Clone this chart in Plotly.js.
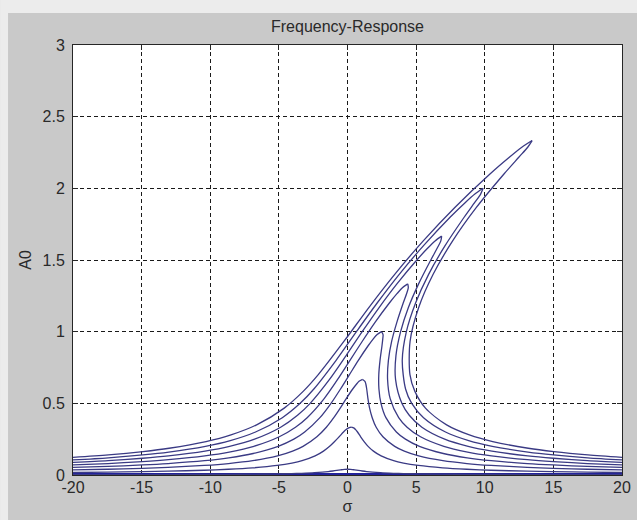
<!DOCTYPE html>
<html>
<head>
<meta charset="utf-8">
<script src="https://cdn.plot.ly/plotly-3.0.1.min.js"></script>
<style>
  html, body { margin: 0; padding: 0; background: #c9c9c9; }
  #chart { width: 637px; height: 520px; }
</style>
</head>
<body>
<div id="chart"></div>
<script>
// Frequency-response curves: detuning sigma vs. steady-state amplitude A0,
// one closed path per forcing level (left branch up to the peak, right branch back down).

const sigma0 = [-20, 20];
const amp0   = [0, 0];

const sigma1 = [-20.97,-17.47,-14.96,-13.08,-10.45,-8.69,-6.92,-5.14,-4.07,-3.34,-2.41,-1.82,-1.40,-1.07,-0.78,-0.50,-0.34,-0.21,0.00,
                0.22,0.35,0.51,0.79,1.07,1.40,1.82,2.41,3.34,4.07,5.14,6.92,8.69,10.45,13.08,14.96,17.47,20.97];
const amp1   = [0.002,0.0024,0.0028,0.0032,0.004,0.0048,0.006,0.008,0.01,0.012,0.016,0.02,0.024,0.028,0.032,0.036,0.038,0.0392,0.04,
                0.0392,0.038,0.036,0.032,0.028,0.024,0.02,0.016,0.012,0.01,0.008,0.006,0.0048,0.004,0.0032,0.0028,0.0024,0.002];

const sigma2 = [-20.97,-17.47,-14.96,-13.08,-10.44,-8.68,-6.91,-5.13,-4.05,-3.31,-2.36,-1.75,-1.30,-0.94,-0.61,-0.29,-0.10,0.05,0.27,
                0.48,0.59,0.73,0.96,1.21,1.50,1.89,2.45,3.36,4.08,5.16,6.93,8.69,10.45,13.08,14.97,17.47,20.97];
const amp2   = [0.0167,0.02,0.0233,0.0267,0.0333,0.04,0.05,0.0667,0.0833,0.1,0.1333,0.1667,0.2,0.2333,0.2667,0.3,0.3167,0.3267,0.3333,
                0.3267,0.3167,0.3,0.2667,0.2333,0.2,0.1667,0.1333,0.1,0.0833,0.0667,0.05,0.04,0.0333,0.0267,0.0233,0.02,0.0167];

const sigma3 = [-20.97,-17.47,-14.96,-13.08,-10.44,-8.67,-6.90,-5.10,-4.00,-3.24,-2.23,-1.54,-1.00,-0.53,-0.09,0.38,0.65,0.84,1.10,
                1.27,1.34,1.40,1.49,1.61,1.80,2.09,2.58,3.44,4.14,5.19,6.95,8.70,10.46,13.09,14.97,17.47,20.98];
const amp3   = [0.0333,0.04,0.0467,0.0533,0.0667,0.08,0.1,0.1333,0.1667,0.2,0.2667,0.3333,0.4,0.4667,0.5333,0.6,0.6333,0.6533,0.6667,
                0.6533,0.6333,0.6,0.5333,0.4667,0.4,0.3333,0.2667,0.2,0.1667,0.1333,0.1,0.08,0.0667,0.0533,0.0467,0.04,0.0333];

const sigma4 = [-20.97,-17.46,-14.95,-13.07,-10.42,-8.65,-6.87,-5.05,-3.91,-3.12,-2.01,-1.20,-0.51,0.14,0.79,1.49,1.88,2.16,2.47,
                2.59,2.57,2.51,2.37,2.28,2.29,2.44,2.80,3.56,4.22,5.24,6.98,8.72,10.47,13.10,14.98,17.48,20.98];
const amp4   = [0.05,0.06,0.07,0.08,0.1,0.12,0.15,0.2,0.25,0.3,0.4,0.5,0.6,0.7,0.8,0.9,0.95,0.98,1.0,
                0.98,0.95,0.9,0.8,0.7,0.6,0.5,0.4,0.3,0.25,0.2,0.15,0.12,0.1,0.08,0.07,0.06,0.05];

const sigma5 = [-20.96,-17.45,-14.94,-13.05,-10.40,-8.62,-6.82,-4.97,-3.79,-2.94,-1.70,-0.72,0.18,1.08,2.02,3.05,3.62,4.00,4.39,
                4.43,4.31,4.06,3.60,3.22,2.98,2.92,3.11,3.73,4.34,5.32,7.02,8.75,10.49,13.11,14.99,17.48,20.99];
const amp5   = [0.0667,0.08,0.0933,0.1067,0.1333,0.16,0.2,0.2667,0.3333,0.4,0.5333,0.6667,0.8,0.9333,1.0667,1.2,1.2667,1.3067,1.3333,
                1.3067,1.2667,1.2,1.0667,0.9333,0.8,0.6667,0.5333,0.4,0.3333,0.2667,0.2,0.16,0.1333,0.1067,0.0933,0.08,0.0667];

const sigma6 = [-20.96,-17.44,-14.93,-13.04,-10.38,-8.59,-6.77,-4.87,-3.64,-2.72,-1.31,-0.10,1.07,2.29,3.60,5.05,5.85,6.38,6.86,
                6.80,6.54,6.07,5.18,4.43,3.87,3.53,3.50,3.96,4.50,5.42,7.08,8.79,10.52,13.13,15.00,17.49,20.99];
const amp6   = [0.0833,0.1,0.1167,0.1333,0.1667,0.2,0.25,0.3333,0.4167,0.5,0.6667,0.8333,1.0,1.1667,1.3333,1.5,1.5833,1.6333,1.6667,
                1.6333,1.5833,1.5,1.3333,1.1667,1.0,0.8333,0.6667,0.5,0.4167,0.3333,0.25,0.2,0.1667,0.1333,0.1167,0.1,0.0833];

const sigma7 = [-20.95,-17.43,-14.92,-13.02,-10.35,-8.54,-6.70,-4.75,-3.45,-2.45,-0.83,0.65,2.16,3.77,5.54,7.49,8.57,9.28,9.88,
                9.70,9.26,8.51,7.11,5.91,4.96,4.29,3.99,4.23,4.68,5.54,7.14,8.83,10.55,13.15,15.01,17.50,21.00];
const amp7   = [0.1,0.12,0.14,0.16,0.2,0.24,0.3,0.4,0.5,0.6,0.8,1.0,1.2,1.4,1.6,1.8,1.9,1.96,2.0,
                1.96,1.9,1.8,1.6,1.4,1.2,1.0,0.8,0.6,0.5,0.4,0.3,0.24,0.2,0.16,0.14,0.12,0.1];

const sigma8 = [-20.94,-17.42,-14.90,-13.00,-10.31,-8.49,-6.62,-4.61,-3.23,-2.13,-0.25,1.54,3.44,5.52,7.82,10.38,11.79,12.70,13.45,
                13.13,12.48,11.40,9.39,7.66,6.24,5.18,4.56,4.55,4.91,5.68,7.22,8.88,10.58,13.17,15.03,17.52,21.01];
const amp8   = [0.1167,0.14,0.1633,0.1867,0.2333,0.28,0.35,0.4667,0.5833,0.7,0.9333,1.1667,1.4,1.6333,1.8667,2.1,2.2167,2.2867,2.3333,
                2.2867,2.2167,2.1,1.8667,1.6333,1.4,1.1667,0.9333,0.7,0.5833,0.4667,0.35,0.28,0.2333,0.1867,0.1633,0.14,0.1167];

const sigmaTicks    = [-20, -15, -10, -5, 0, 5, 10, 15, 20];
const sigmaTickText = ['-20', '-15', '-10', '-5', '0', '5', '10', '15', '20'];
const ampTicks      = [0, 0.5, 1, 1.5, 2, 2.5, 3];
const ampTickText   = ['0', '0.5', '1', '1.5', '2', '2.5', '3'];

const curves = [
  [sigma1, amp1], [sigma2, amp2], [sigma3, amp3], [sigma4, amp4],
  [sigma5, amp5], [sigma6, amp6], [sigma7, amp7], [sigma8, amp8]
];

const curveColor = '#3a3a84';
const traces = [{
  x: sigma0, y: amp0, type: 'scatter', mode: 'lines',
  line: { color: '#22229a', width: 4 }, hoverinfo: 'skip'
}];

// each path is split at its peak so the tip stays sharp while the branches are smoothed
curves.forEach(([s, a]) => {
  let k = 0;
  a.forEach((v, i) => { if (v > a[k]) k = i; });
  [[0, k + 1], [k, s.length]].forEach(([i0, i1]) => {
    traces.push({
      x: s.slice(i0, i1), y: a.slice(i0, i1),
      type: 'scatter', mode: 'lines',
      line: { color: curveColor, width: 1.3, shape: 'spline', smoothing: 0.8 },
      hoverinfo: 'skip'
    });
  });
});

const axisCommon = {
  tickmode: 'array',
  showgrid: true, gridcolor: '#1a1a1a', gridwidth: 1, griddash: '4px,3px',
  zeroline: false,
  showline: true, linecolor: '#262626', linewidth: 1, mirror: 'ticks',
  ticks: 'inside', ticklen: 5, tickcolor: '#262626',
  tickfont: { size: 16, color: '#2a2a2a' },
  layer: 'below traces',
  fixedrange: true
};

const layout = {
  width: 637, height: 520,
  paper_bgcolor: '#c9c9c9', plot_bgcolor: '#ffffff',
  margin: { l: 73, r: 14.5, t: 45, b: 45 },
  font: { family: '"Liberation Sans", Arial, sans-serif', size: 16, color: '#2a2a2a' },
  showlegend: false,
  title: {
    text: 'Frequency-Response',
    x: 0.5, xref: 'paper', xanchor: 'center',
    y: 1 - 26 / 520, yref: 'container', yanchor: 'middle',
    font: { size: 16, color: '#2a2a2a' }
  },
  xaxis: Object.assign({}, axisCommon, {
    range: [-20, 20], tickvals: sigmaTicks, ticktext: sigmaTickText,
    ticklabelstandoff: -2,
    title: { text: 'σ', standoff: 5, font: { size: 16 } }
  }),
  yaxis: Object.assign({}, axisCommon, {
    range: [0, 3], tickvals: ampTicks, ticktext: ampTickText,
    ticklabelstandoff: 4,
    title: { text: 'A0', standoff: 6, font: { size: 16 } }
  }),
  shapes: [
    { type: 'rect', xref: 'paper', yref: 'paper', layer: 'below',
      x0: -0.1329, x1: 1.03, y0: 1.0744, y1: 1.11, line: { width: 0 }, fillcolor: '#ececec' },
    { type: 'rect', xref: 'paper', yref: 'paper', layer: 'below',
      x0: -0.1329, x1: -0.1183, y0: -0.11, y1: 1.0744, line: { width: 0 }, fillcolor: '#ececec' }
  ]
};

Plotly.newPlot('chart', traces, layout, { staticPlot: true, displayModeBar: false });
</script>
</body>
</html>
